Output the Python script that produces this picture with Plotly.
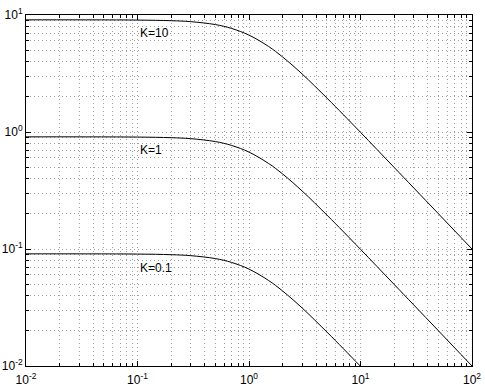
import math
import plotly.graph_objects as go

# frequencies (log axis)
freq = [0.01, 0.03, 0.1, 0.2, 0.3, 0.5, 0.7, 1, 1.5, 2, 3, 5, 7, 10, 20, 30, 50, 100]
# magnitude readings for each curve
mag_k10 = [9.09, 9.09, 9.05, 8.94, 8.77, 8.28, 7.67, 6.73, 5.38, 4.38, 3.13, 1.95, 1.41, 0.994, 0.499, 0.333, 0.200, 0.100]
mag_k1 = [0.909, 0.909, 0.905, 0.894, 0.877, 0.828, 0.767, 0.673, 0.538, 0.438, 0.313, 0.195, 0.141, 0.0994, 0.0499, 0.0333, 0.0200, 0.0100]
mag_k01 = [0.0909, 0.0909, 0.0905, 0.0894, 0.0877, 0.0828, 0.0767, 0.0673, 0.0538, 0.0438, 0.0313, 0.0195, 0.0141, 0.00994, 0.00499, 0.00333, 0.00200, 0.00100]

curve_labels = ["K=10", "K=1", "K=0.1"]
label_x = [0.1, 0.1, 0.1]
label_y = [7.0, 0.70, 0.069]

x_tickvals = [0.01, 0.1, 1, 10, 100]
x_ticktext = ["10<sup>-2</sup>", "10<sup>-1</sup>", "10<sup>0</sup>", "10<sup>1</sup>", "10<sup>2</sup>"]
y_tickvals = [0.01, 0.1, 1, 10]
y_ticktext = ["10<sup>-2</sup>", "10<sup>-1</sup>", "10<sup>0</sup>", "10<sup>1</sup>"]

def minors(lo, hi):
    out = []
    e = lo
    while e < hi:
        for m in range(2, 10):
            out.append(m * 10 ** e)
        e += 1
    return out

fig = go.Figure()
for ys in (mag_k10, mag_k1, mag_k01):
    fig.add_trace(go.Scatter(x=freq, y=ys, mode="lines", line=dict(color="black", width=1, shape="spline"),
                             showlegend=False, hoverinfo="skip"))

for t, xx, yy in zip(curve_labels, label_x, label_y):
    fig.add_annotation(x=math.log10(xx), y=math.log10(yy), xref="x", yref="y", text=t, showarrow=False,
                       xanchor="left", yanchor="middle", font=dict(size=12, color="black"))

grid_col = "#a0a0a0"
gdash = "1px,3px"
common = dict(type="log", showline=True, linecolor="black", linewidth=1, mirror="allticks",
              ticks="inside", ticklen=5, tickcolor="black", showgrid=True, gridcolor=grid_col,
              griddash=gdash, gridwidth=1, zeroline=False, tickmode="array", automargin=False,
              tickfont=dict(size=12, color="black", family="Liberation Sans, Arial, sans-serif"))

fig.update_xaxes(**common, range=[-2, 2], tickvals=x_tickvals, ticktext=x_ticktext, ticklabelstandoff=3,
                 minor=dict(tickmode="array", tickvals=minors(-2, 2), ticks="inside", ticklen=3,
                            tickcolor="black", showgrid=True, gridcolor=grid_col, griddash=gdash, gridwidth=1))
fig.update_yaxes(**common, range=[-2, 1], tickvals=y_tickvals, ticktext=y_ticktext,
                 minor=dict(tickmode="array", tickvals=minors(-2, 1), ticks="inside", ticklen=3,
                            tickcolor="black", showgrid=True, gridcolor=grid_col, griddash=gdash, gridwidth=1))

fig.update_layout(width=485, height=388, margin=dict(l=26, r=13, t=15, b=22),
                  paper_bgcolor="white", plot_bgcolor="white",
                  font=dict(family="Liberation Sans, Arial, sans-serif", size=12, color="black"))

fig.write_html("out.html")
